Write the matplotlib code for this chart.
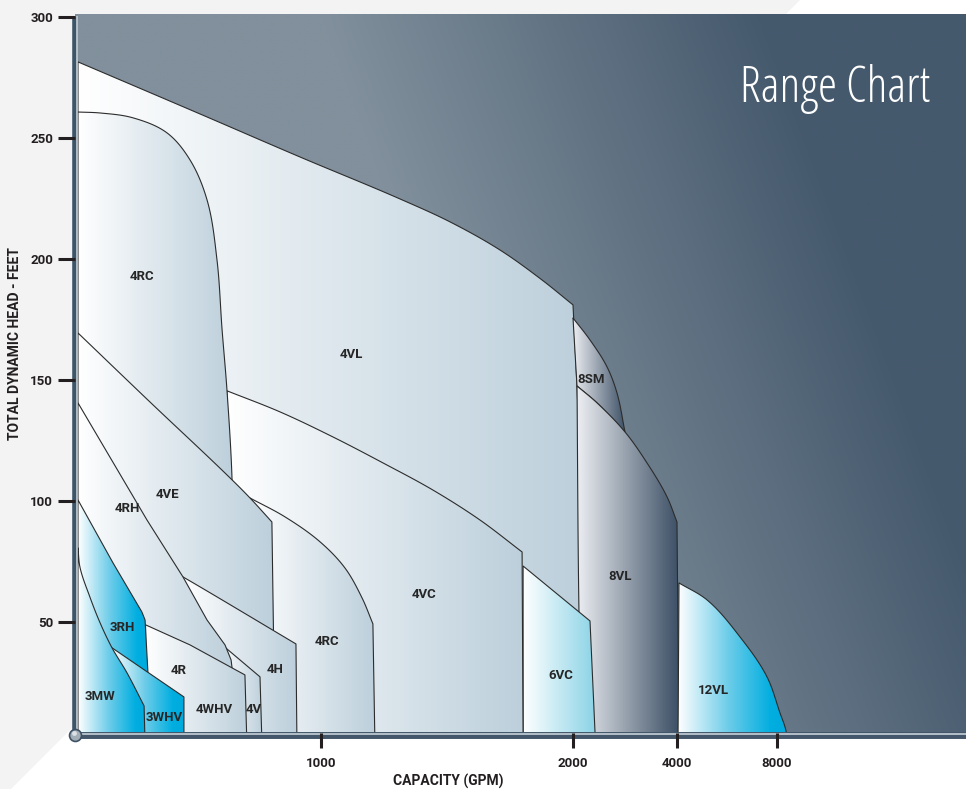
import numpy as np
import matplotlib
matplotlib.use("Agg")
import matplotlib.pyplot as plt
from matplotlib import font_manager
from matplotlib.colors import LinearSegmentedColormap
from matplotlib.patches import Polygon

plt.rcParams['font.family'] = ['Roboto', 'DejaVu Sans']
plt.rcParams['font.weight'] = 'bold'

# capacity axis is stretched: linear up to 2000 gpm, then one step per doubling
SCALE_GPM = [-1000, 0, 1000, 2000, 4000, 8000, 16000, 32000]
SCALE_POS = [-243, 0, 243, 495, 599, 699, 799, 899]

X_TICKS = [1000, 2000, 4000, 8000]
X_TICK_LABELS = ['1000', '2000', '4000', '8000']
Y_TICKS = [50, 100, 150, 200, 250, 300]

# pump ranges, outline as (gpm, feet)
r4vl_q = [0, 0, 502, 914, 1313, 1512, 1710, 1877, 2000, 2090, 2250]
r4vl_h = [0, 281.4, 259.9, 242.1, 224.8, 215.3, 203.7, 191.3, 181.0, 140.0, 0]

r8sm_q = [2000, 2327, 2654, 2846, 3000, 2462, 2077]
r8sm_h = [175.6, 166.5, 155.4, 144.6, 128.5, 140.5, 147.5]

r8vl_q = [2173, 2115, 2077, 2462, 3000, 3423, 3808, 4000, 4080]
r8vl_h = [0, 54.1, 147.5, 140.5, 128.5, 115.7, 101.7, 91.3, 0]

r6vc_q = [1802, 1802, 2327, 2433]
r6vc_h = [0, 73.1, 50.4, 0]

r12vl_q = [4040, 4080, 5200, 6520, 7600, 8240, 8720, 8800]
r12vl_h = [0, 66.1, 59.1, 43.8, 27.3, 12.4, 5.0, 0]

r4vc_q = [613, 613, 831, 1048, 1246, 1444, 1631, 1798, 1802]
r4vc_h = [0, 145.5, 136.8, 126.4, 115.7, 104.5, 92.1, 78.9, 0]

r4rcs_q = [708, 708, 852, 996, 1095, 1163, 1206, 1214]
r4rcs_h = [0, 101.2, 93.4, 83.1, 72.3, 59.9, 49.2, 0]

r4rc_q = [0, 0, 91, 226, 366, 461, 531, 572, 593, 613, 634, 642]
r4rc_h = [0, 260.7, 260.3, 258.3, 252.1, 240.9, 224.4, 199.6, 170.7, 145.9, 108.7, 0]

r4ve_q = [0, 0, 296, 634, 708, 798, 811]
r4ve_h = [0, 169.4, 140.9, 108.7, 101.2, 91.3, 0]

r4h_q = [432, 432, 502, 897, 901]
r4h_h = [0, 68.6, 64.5, 40.9, 0]

r4v_q = [584, 584, 749, 757]
r4v_h = [0, 41.3, 27.3, 0]

r4rh_q = [0, 0, 284, 432, 531, 605, 630, 634, 634]
r4rh_h = [0, 140.5, 92.1, 68.6, 50.8, 40.5, 34.3, 31.0, 0]

r4r_q = [278, 278, 461, 687, 695]
r4r_h = [0, 48.8, 40.5, 28.1, 0]

r3rh_q = [0, 0, 144, 263, 276, 288, 288]
r3rh_h = [0, 100.4, 74.4, 54.1, 50.8, 28.9, 0]

r3whv_q = [140, 140, 436, 436]
r3whv_h = [0, 39.3, 19.0, 0]

r3mw_q = [0, 0, 8, 49, 91, 140, 202, 272, 276]
r3mw_h = [0, 80.6, 72.7, 60.3, 49.6, 39.3, 28.9, 15.3, 0]

LABELS = ['4RC', '4VL', '8SM', '4VE', '4RH', '3RH', '4R', '4H', '4RC', '4VC',
          '6VC', '8VL', '12VL', '3MW', '3WHV', '4WHV', '4V']
LABEL_Q = [263, 1119, 2346, 370, 202, 181, 416, 811, 1024, 1409,
           1952, 2904, 5440, 91, 354, 560, 724]
LABEL_H = [192.6, 160.3, 150.0, 102.5, 96.7, 47.9, 29.8, 30.2, 42.1, 61.2,
           27.7, 68.6, 21.5, 19.0, 10.3, 14.0, 14.0]

CMAPS = {
    'steel': LinearSegmentedColormap.from_list('steel', ['#ffffff', '#bccfdb']),
    'cyan': LinearSegmentedColormap.from_list(
        'cyan', [(0, '#ffffff'), (0.45, '#6fcde9'), (0.85, '#00aee0'), (1, '#00aade')]),
    'aqua': LinearSegmentedColormap.from_list('aqua', ['#ffffff', '#8ad3e6']),
    'slate': LinearSegmentedColormap.from_list('slate', ['#eceef2', '#3c4f65']),
}

# back to front; last item = outline vertices kept sharp (None: all sharp)
RANGES = [
    (r4vl_q, r4vl_h, 'steel', {0, 1, 8, 10}),
    (r8sm_q, r8sm_h, 'slate', {0, 4, 6}),
    (r8vl_q, r8vl_h, 'slate', {0, 2, 7, 8}),
    (r6vc_q, r6vc_h, 'aqua', None),
    (r12vl_q, r12vl_h, 'cyan', {0, 1, 7}),
    (r4vc_q, r4vc_h, 'steel', {0, 1, 7, 8}),
    (r4rcs_q, r4rcs_h, 'steel', {0, 1, 6, 7}),
    (r4rc_q, r4rc_h, 'steel', {0, 1, 11}),
    (r4ve_q, r4ve_h, 'steel', {0, 1, 5, 6}),
    (r4h_q, r4h_h, 'steel', {0, 1, 3, 4}),
    (r4v_q, r4v_h, 'steel', None),
    (r4rh_q, r4rh_h, 'steel', None),
    (r4r_q, r4r_h, 'steel', None),
    (r3rh_q, r3rh_h, 'cyan', None),
    (r3whv_q, r3whv_h, 'cyan', None),
    (r3mw_q, r3mw_h, 'cyan', {0, 1, 7, 8}),
]

INK = '#231f20'
EDGE = '#2c2c2c'


def fwd(q):
    return np.interp(q, SCALE_GPM, SCALE_POS)


def inv(p):
    return np.interp(p, SCALE_POS, SCALE_GPM)


def title_font():
    ok = ('Roboto', 'Noto Sans', 'Open Sans', 'Liberation Sans', 'DejaVu Sans', 'Lato', 'Inter')
    bad = ('Mono', 'CJK', 'Symbols', 'Math', 'Display', ' SC', 'Caps')
    cands = []
    for f in font_manager.fontManager.ttflist:
        if not f.name.startswith(ok) or any(b in f.name for b in bad) or f.style != 'normal':
            continue
        fn = f.fname.replace('-', '').replace('_', '')
        if 'ExtraCond' in fn or 'UltraCond' in fn:
            rank = 0
        elif 'SemiCond' in fn:
            rank = 2
        elif 'Cond' in fn or 'Narrow' in fn or 'Condensed' in f.name or 'Narrow' in f.name:
            rank = 1
        else:
            continue
        w = f.weight if isinstance(f.weight, int) else font_manager.weight_dict.get(f.weight, 400)
        if 200 <= w <= 400:
            cands.append((rank, abs(w - 300), f.fname))
    if cands:
        return font_manager.FontProperties(fname=sorted(cands)[0][2])
    return font_manager.FontProperties(family='Roboto', weight='light')


def unit(v):
    d = np.hypot(v[0], v[1])
    return v / d if d > 0 else v


def outline(ax, q, h, sharp):
    pts = np.column_stack([q, h]).astype(float)
    if sharp is None:
        return pts
    P = ax.transData.transform(pts)
    n = len(P)
    t = np.linspace(0, 1, 20)[1:, None]
    h00, h10 = 2 * t**3 - 3 * t**2 + 1, t**3 - 2 * t**2 + t
    h01, h11 = -2 * t**3 + 3 * t**2, t**3 - t**2
    out = [P[0]]
    for i in range(n - 1):
        a, b = P[i], P[i + 1]
        seg = unit(b - a)
        L = np.hypot(*(b - a))
        ta = seg if (i in sharp or i == 0) else unit(unit(a - P[i - 1]) + seg)
        tb = seg if (i + 1 in sharp or i + 1 == n - 1) else unit(seg + unit(P[i + 2] - b))
        out.extend(h00 * a + h10 * L * ta + h01 * b + h11 * L * tb)
    return ax.transData.inverted().transform(np.array(out))


def gradient_fill(ax, verts, cmap, z):
    patch = Polygon(verts, closed=True, facecolor='none', edgecolor=EDGE,
                    lw=0.8, zorder=z + 0.005, joinstyle='round')
    ax.add_patch(patch)
    pts = ax.transAxes.inverted().transform(ax.transData.transform(verts))
    ext = (pts[:, 0].min(), pts[:, 0].max(), pts[:, 1].min(), pts[:, 1].max())
    im = ax.imshow(np.linspace(0, 1, 256)[None, :], cmap=cmap, extent=ext,
                   transform=ax.transAxes, aspect='auto', interpolation='bilinear', zorder=z)
    im.set_clip_path(patch)


fig = plt.figure(figsize=(9.66, 7.89), dpi=100, facecolor='white')
fig.patches.append(Polygon([(0, 1), (800 / 966, 1), (0, 1 - 800 / 789)], closed=True,
                           transform=fig.transFigure, facecolor='#f3f3f3',
                           edgecolor='none', zorder=-1))

ax = fig.add_axes([75 / 966, 56 / 789, 891 / 966, 719 / 789])
ax.set_xscale('function', functions=(fwd, inv))
ax.set_xlim(-12.3, 30240)
ax.set_ylim(4.1, 301.2)
ax.set_autoscale_on(False)
ax.set_axisbelow(False)
for s in ax.spines.values():
    s.set_visible(False)

# backdrop
gx, gy = np.meshgrid(np.linspace(0, 1, 300), np.linspace(0, 1, 300))
shade = np.clip(2.0 * gx + 0.6 * gy - 1.15, 0, 1)
bg = LinearSegmentedColormap.from_list('bg', ['#81909c', '#45596d'])
ax.imshow(shade, extent=(0, 1, 0, 1), origin='lower', transform=ax.transAxes,
          cmap=bg, aspect='auto', interpolation='bilinear', zorder=0.5)

for i, (q, h, style, sharp) in enumerate(RANGES):
    gradient_fill(ax, outline(ax, q, h, sharp), CMAPS[style], 1 + i * 0.01)

for name, q, h in zip(LABELS, LABEL_Q, LABEL_H):
    ax.text(q, h, name, ha='center', va='center', fontsize=9.5, fontweight='bold',
            color='#262626', zorder=3)

# axis bars
ax.plot([-0.0011, -0.0011], [0.9972, -0.0056], transform=ax.transAxes, clip_on=False,
        color='#3d5569', lw=3.3, solid_capstyle='butt', zorder=2.2)
ax.plot([0.0026, 0.0026], [0.9972, 0.0], transform=ax.transAxes, clip_on=False,
        color='#c3ced6', lw=1.2, solid_capstyle='butt', zorder=2.21)
ax.plot([-0.0034, 1.0], [-0.0021, -0.0021], transform=ax.transAxes, clip_on=False,
        color='#44576a', lw=5.0, solid_capstyle='butt', zorder=2.22)
ax.plot([-0.0034, 1.0], [-0.0014, -0.0014], transform=ax.transAxes, clip_on=False,
        color='#b4c0c9', lw=1.4, solid_capstyle='butt', zorder=2.23)
ax.plot([0], [-0.0028], marker='o', ms=8.6, mfc='#a3aeb7', mec='#3f5164', mew=1.2,
        transform=ax.transAxes, clip_on=False, zorder=2.3)
ax.plot([-0.0012], [-0.0005], marker='o', ms=3.5, mfc='#dde2e6', mec='none',
        transform=ax.transAxes, clip_on=False, zorder=2.31)

ax.set_xticks(X_TICKS)
ax.set_xticklabels(X_TICK_LABELS)
ax.set_yticks(Y_TICKS)
ax.tick_params(axis='y', direction='out', length=12.2, width=2.2, color=INK, pad=3.6,
               labelsize=9.5, labelcolor=INK)
ax.tick_params(axis='x', direction='out', length=10.8, width=2.2, color=INK, pad=6.5,
               labelsize=9.5, labelcolor=INK)

ax.set_xlabel('CAPACITY (GPM)', fontsize=10, fontweight='bold', color=INK)
ax.xaxis.set_label_coords(0.4186, -0.068)
ax.xaxis.label.set_va('center')
ax.set_ylabel('TOTAL DYNAMIC HEAD - FEET', fontsize=10, fontweight='bold', color=INK)
ax.yaxis.set_label_coords(-0.0668, 0.541)
ax.yaxis.label.set_va('center')
ax.yaxis.label.set_ha('center')

title = ax.text(0.9596, 0.8776, 'Range Chart', transform=ax.transAxes, ha='right',
                va='baseline', color='white', fontproperties=title_font(), fontsize=30, zorder=4)
w = title.get_window_extent(fig.canvas.get_renderer()).width
title.set_fontsize(30 * 190 / w)

fig.savefig('out.png', dpi=100, facecolor=fig.get_facecolor())
